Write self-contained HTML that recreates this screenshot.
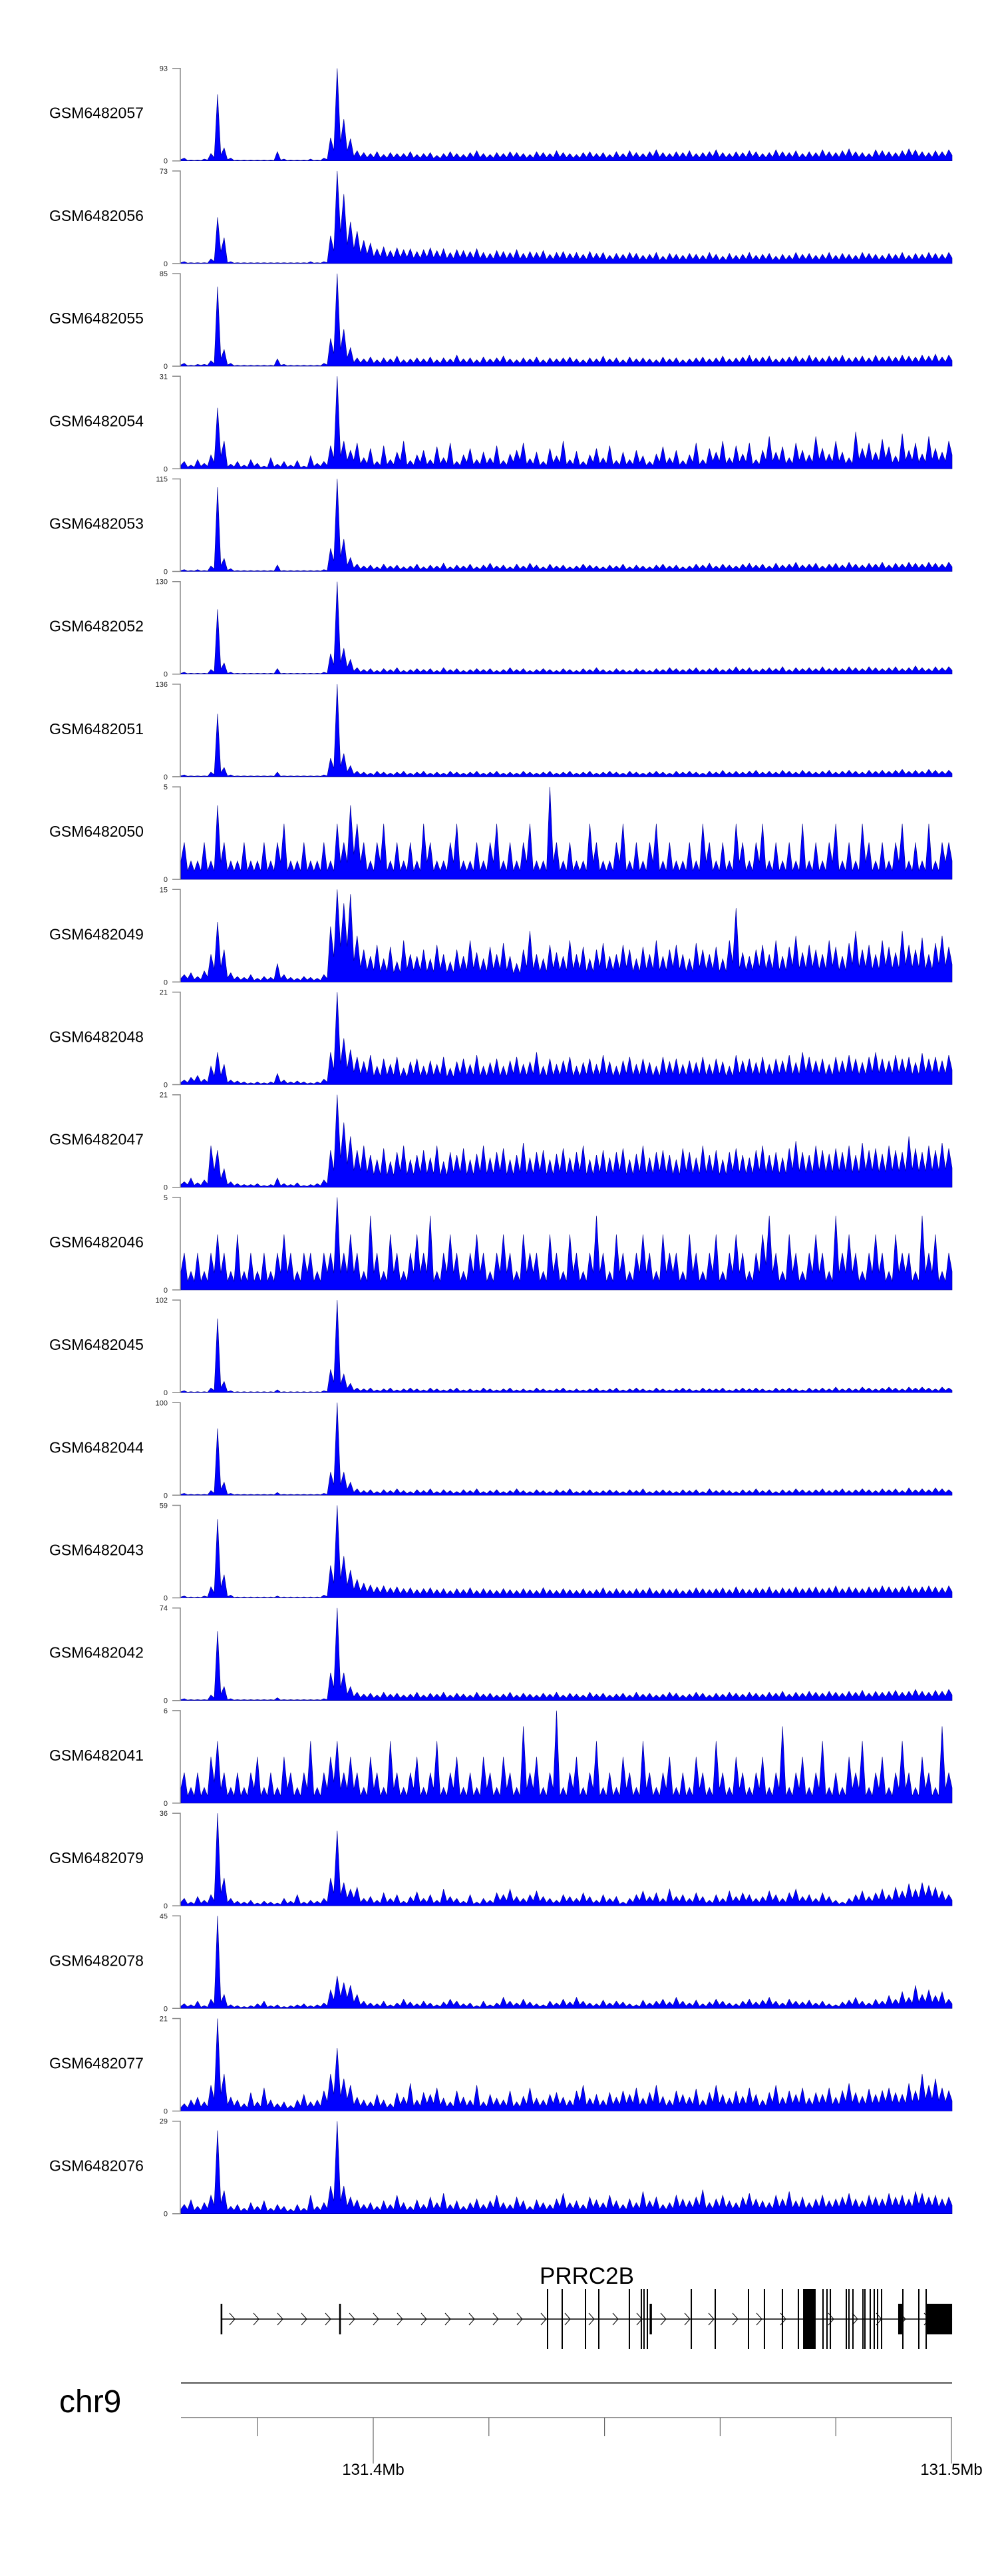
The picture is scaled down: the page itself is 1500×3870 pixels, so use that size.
<!DOCTYPE html>
<html><head><meta charset="utf-8"><style>
html,body{margin:0;padding:0;background:#fff;}
svg{display:block;}
text{font-family:"Liberation Sans",Arial,sans-serif;}
</style></head><body>
<svg id="chart" xmlns="http://www.w3.org/2000/svg" width="1500" height="3870" viewBox="0 0 1500 3870">
<g id="tracks"></g>
<g id="gene"></g>
<g id="axis"></g>
</svg>
<script>
const sampleNames = ["GSM6482057","GSM6482056","GSM6482055","GSM6482054","GSM6482053","GSM6482052","GSM6482051","GSM6482050","GSM6482049","GSM6482048","GSM6482047","GSM6482046","GSM6482045","GSM6482044","GSM6482043","GSM6482042","GSM6482041","GSM6482079","GSM6482078","GSM6482077","GSM6482076"];
const yMaxLabels = [93,73,85,31,115,130,136,5,15,21,21,5,102,100,59,74,6,36,45,21,29];
// coverage values, percent of each track's max
const s057=[3,1,1,2,8,72,14,3,1,1,1,1,1,1,10,2,1,1,1,2,1,3,25,100,45,24,11,9,8,10,7,9,8,8,10,7,8,9,6,8,10,8,7,9,11,8,7,9,8,10,9,8,7,10,9,8,11,9,8,7,9,10,8,9,7,10,8,11,9,8,10,12,9,8,10,9,11,8,9,10,12,9,8,10,9,11,10,8,9,12,10,9,11,8,10,9,12,10,9,11,13,10,9,8,12,11,10,9,11,13,12,10,9,11,10,12];
const s056=[2,1,1,1,5,50,28,2,1,1,1,1,1,1,1,1,1,1,1,2,1,2,30,100,75,45,35,25,22,16,18,14,17,15,16,13,15,17,14,16,12,15,14,13,16,12,11,14,13,12,15,11,13,12,14,10,12,13,11,12,10,13,11,12,9,11,10,12,11,9,10,12,8,11,10,9,11,10,9,12,10,8,11,9,10,12,9,10,11,8,10,9,12,10,11,9,10,12,9,11,10,9,12,11,10,9,11,10,12,9,11,10,12,11,10,12];
const s055=[3,1,2,2,6,86,18,3,1,1,1,1,1,1,8,2,1,1,1,1,1,3,30,100,40,20,9,8,10,7,9,8,11,7,8,9,8,10,7,9,8,12,8,9,7,10,8,9,11,8,7,9,8,10,7,9,8,9,10,8,7,9,8,11,8,9,7,10,8,9,8,7,10,8,9,7,8,9,10,8,9,11,8,9,10,12,9,10,11,8,9,10,11,9,12,10,9,11,10,12,9,10,11,9,12,10,11,10,12,11,10,12,11,13,10,12];
const s054=[8,4,10,6,15,66,30,5,8,4,10,6,3,12,5,8,4,9,3,14,6,8,25,100,30,20,28,12,22,8,25,10,18,30,9,15,20,10,24,12,28,8,15,22,10,18,12,25,9,16,20,28,11,18,8,22,14,30,10,19,8,15,22,12,25,9,18,10,20,14,8,16,24,12,20,9,15,28,10,22,18,30,12,25,16,28,10,20,35,18,24,12,28,20,15,35,22,16,30,18,12,40,22,28,18,32,24,14,38,20,28,16,35,22,18,30];
const s053=[2,1,2,1,6,91,14,3,1,1,1,1,1,1,7,1,1,1,1,1,1,2,25,100,35,15,8,6,7,5,8,6,7,5,6,8,5,7,6,9,5,7,6,8,5,7,9,6,7,5,8,6,9,7,5,8,6,7,5,6,8,7,6,5,7,6,8,5,7,6,5,7,8,6,7,5,6,8,7,9,6,8,7,6,8,9,7,8,6,9,7,8,10,7,8,9,6,8,9,7,10,8,7,9,8,10,7,9,8,10,9,8,10,9,8,10];
const s052=[2,1,1,1,5,70,12,2,1,1,1,1,1,1,6,1,1,1,1,1,1,2,22,100,28,16,7,5,6,4,6,5,7,4,5,6,5,6,4,7,5,6,4,5,6,5,6,4,5,7,5,6,4,5,6,5,4,6,5,4,6,5,7,5,4,6,5,4,6,5,4,6,5,7,6,5,6,7,5,6,7,5,6,8,6,7,5,6,7,6,8,5,7,6,7,6,8,6,7,6,8,7,6,8,7,6,7,8,6,7,9,7,6,8,7,8];
const s051=[2,1,1,1,5,68,10,2,1,1,1,1,1,1,5,1,1,1,1,1,1,2,20,100,25,12,6,5,4,6,5,4,5,6,4,5,6,4,5,4,6,5,4,5,6,4,5,6,4,5,4,6,5,4,5,6,4,5,6,4,5,6,4,5,6,5,4,6,5,4,5,6,5,4,6,5,6,5,4,6,5,7,5,6,5,6,7,5,6,5,7,6,5,7,6,5,6,7,5,6,7,6,5,7,6,7,6,7,8,6,7,6,8,7,6,7];
const s050=[40,20,20,40,20,80,40,20,20,40,20,20,40,20,40,60,20,20,40,20,20,40,20,60,40,80,60,40,20,40,60,20,40,20,40,20,60,40,20,20,40,60,20,20,40,20,40,60,20,40,20,40,60,20,20,100,40,20,40,20,20,60,40,20,20,40,60,20,40,20,40,60,20,40,20,20,40,20,60,40,20,40,20,60,40,20,40,60,20,40,20,40,20,60,20,40,20,40,60,20,40,20,60,40,20,40,20,40,60,20,40,20,60,20,40,40];
const s049=[8,10,6,12,30,65,35,10,6,5,8,4,6,5,20,8,5,4,6,5,4,8,60,100,85,95,50,35,28,40,25,38,22,45,30,28,35,25,40,30,22,35,28,45,32,25,38,30,42,28,20,35,55,30,25,40,32,28,45,30,38,25,35,42,28,30,40,35,25,38,30,45,28,35,40,30,25,42,35,30,38,25,45,80,32,28,35,40,30,45,28,38,50,32,40,35,30,45,38,28,42,55,35,40,30,45,38,32,55,40,35,48,30,42,50,38];
const s048=[5,8,10,6,20,35,22,5,4,3,2,3,2,3,12,5,3,4,3,2,3,6,35,100,50,38,30,25,32,20,28,22,30,18,25,28,20,26,22,30,18,25,28,22,32,20,24,28,20,26,30,22,25,35,20,28,22,26,30,20,24,28,22,32,25,20,26,30,22,28,24,20,30,25,28,22,26,24,30,22,28,25,20,32,26,28,24,30,22,28,26,32,24,35,30,26,28,22,30,26,32,28,24,30,35,28,26,32,28,30,24,34,28,30,26,32];
const s047=[6,10,5,8,45,40,20,6,4,3,3,4,2,3,10,4,3,5,2,3,4,8,40,100,70,55,40,45,35,30,42,28,38,45,30,35,40,32,45,28,38,35,42,30,36,45,32,38,42,30,35,48,32,38,40,30,36,42,32,38,45,30,35,40,32,38,42,30,36,45,32,38,40,35,30,42,38,32,45,35,40,30,38,42,35,32,40,45,35,38,32,42,50,38,35,45,40,36,42,38,45,35,48,40,42,36,45,40,38,55,42,38,45,40,48,42];
const s046=[40,20,40,20,40,60,40,20,60,20,40,20,40,20,40,60,40,20,40,40,20,40,40,100,40,60,40,20,80,40,20,60,40,20,40,60,40,80,20,40,60,40,20,40,60,40,20,40,60,40,20,60,40,40,20,60,40,20,60,40,20,40,80,40,20,60,40,20,40,60,40,20,60,40,40,20,60,40,20,40,60,20,40,60,40,20,40,60,80,40,20,60,40,20,40,60,40,20,80,40,60,40,20,40,60,40,20,60,40,40,20,80,40,60,20,40];
const s045=[2,1,1,1,5,80,12,2,1,1,1,1,1,1,3,1,1,1,1,1,1,2,25,100,20,10,5,4,5,3,4,5,3,4,5,4,3,5,4,3,4,5,3,4,3,5,4,3,4,5,3,4,3,5,4,3,4,5,3,4,3,4,5,3,4,5,3,4,5,4,3,5,4,3,4,5,4,3,5,4,4,5,3,4,5,4,5,4,3,5,4,5,4,3,5,4,5,4,6,4,5,4,6,5,4,5,6,5,4,6,5,6,5,4,6,5];
const s044=[2,1,1,1,5,72,14,2,1,1,1,1,1,1,3,1,1,1,1,1,1,2,25,100,25,14,7,5,6,4,6,5,7,5,4,6,5,7,4,6,5,4,6,5,7,4,5,6,4,5,7,5,4,6,5,4,6,5,7,4,5,6,4,5,6,5,4,6,5,7,4,5,6,5,4,6,5,6,4,7,5,6,5,4,6,5,7,5,6,4,6,5,7,6,5,6,7,5,6,7,5,6,7,6,5,7,6,7,5,8,6,7,6,8,7,6];
const s043=[2,1,1,2,12,85,25,3,1,1,1,1,1,1,2,1,1,1,1,1,1,3,35,100,45,30,20,16,14,12,13,11,12,10,11,9,10,11,9,10,8,10,9,11,8,10,9,8,10,9,8,10,9,8,11,9,8,10,9,8,10,8,9,11,8,10,9,8,10,9,11,8,10,9,10,8,9,11,10,9,10,11,9,12,10,9,11,10,12,9,11,10,12,10,11,12,10,11,13,10,12,11,10,12,11,13,12,11,12,13,11,12,13,12,11,13];
const s042=[2,1,1,1,6,75,15,2,1,1,1,1,1,1,3,1,1,1,1,1,1,2,30,100,30,15,9,7,8,6,9,7,8,6,7,9,6,8,7,9,6,8,7,6,9,7,8,6,7,9,6,8,7,6,8,7,9,6,8,7,6,9,7,8,6,7,8,6,9,7,8,6,7,9,8,6,7,9,8,6,8,7,9,8,7,9,8,7,9,8,10,7,9,8,10,9,8,10,9,8,10,9,11,8,10,9,10,11,9,10,12,10,9,11,10,12];
const s041=[33,17,33,17,50,67,33,17,33,17,33,50,17,33,17,50,33,17,33,67,17,33,50,67,33,50,33,17,50,33,17,67,33,17,33,50,17,33,67,17,33,50,17,33,17,50,33,17,50,33,17,83,33,50,17,33,100,17,33,50,17,33,67,17,33,17,50,33,17,67,33,17,33,50,17,33,17,50,33,17,67,33,17,50,33,17,33,50,17,33,83,17,33,50,17,33,67,17,33,17,50,33,67,17,33,50,17,33,67,33,17,50,33,17,83,33];
const s079=[8,4,10,6,12,100,30,8,5,4,6,3,5,4,3,8,5,12,4,6,5,8,30,81,25,18,20,8,10,6,14,8,12,5,10,15,8,12,6,18,10,8,5,12,4,8,6,14,12,18,10,8,12,16,10,8,6,12,10,8,14,10,6,12,8,10,4,8,12,16,10,14,8,18,10,12,8,14,10,6,12,8,16,10,14,12,8,10,16,12,8,14,18,10,12,8,14,10,6,4,8,12,16,10,14,18,12,20,16,24,18,25,22,20,16,12];
const s078=[5,4,8,3,10,100,15,4,3,2,3,5,8,3,4,2,3,4,5,3,4,6,20,35,28,25,15,8,6,5,8,4,6,10,7,5,8,6,4,7,10,8,5,6,3,8,4,6,12,8,6,10,7,5,4,8,6,10,7,12,8,6,5,9,6,8,7,5,4,9,6,8,10,7,12,8,6,9,5,7,10,8,6,5,8,10,7,9,12,8,6,10,8,7,9,6,8,5,4,7,9,12,8,6,10,8,14,10,18,12,25,15,20,14,18,10];
const s077=[8,12,15,10,28,100,40,15,12,8,20,10,25,12,8,10,6,12,18,10,12,22,40,68,35,28,15,12,10,18,12,8,20,15,30,12,20,18,25,14,10,22,15,12,28,10,18,14,12,22,10,16,25,14,12,18,20,15,12,22,28,14,18,12,20,15,22,18,25,14,20,28,16,12,22,18,15,24,12,20,28,18,14,22,16,25,18,12,20,28,15,22,18,25,14,20,18,25,15,22,30,20,16,24,18,22,25,20,18,30,22,40,28,35,25,22];
const s076=[10,15,8,12,20,90,25,8,10,6,12,8,14,6,10,8,5,10,6,20,8,12,30,100,30,18,15,10,12,8,14,10,20,12,8,15,10,18,12,22,10,14,8,12,16,10,14,20,12,10,18,14,8,15,12,10,16,22,12,14,10,18,15,12,20,14,10,16,12,24,14,18,10,12,20,16,14,18,26,12,16,20,14,12,18,22,16,14,12,20,16,24,14,18,12,16,20,14,16,18,22,16,14,20,18,16,22,18,20,16,24,22,18,20,16,18];
const trackSeries=[s057,s056,s055,s054,s053,s052,s051,s050,s049,s048,s047,s046,s045,s044,s043,s042,s041,s079,s078,s077,s076];

// gene model (kb offset from 131.3 Mb)
const geneStart=73.76, geneEnd=200.12;
const utrExons=[[73.6,73.9],[94.1,94.4],[147.8,148.2],[190.79,191.48],[195.63,200.12]];
const cdsExons=[130.15,132.68,136.71,139.01,144.30,146.37,146.83,147.41,155.01,159.15,164.90,167.66,170.77,173.53,177.79,178.48,179.06,181.82,182.28,182.97,184.70,185.04,185.96,186.65,187.23,187.92,191.60,194.36,195.63];
const wideCds=[[174.34,176.52]];
const axisTicksKb=[80,100,120,140,160,180,200];
const axisMajorLabels=["131.4Mb","131.5Mb"];
const axisMajorKb=[100,200];

const NS="http://www.w3.org/2000/svg";
function mk(tag,attrs,parent){const e=document.createElementNS(NS,tag);for(const k in attrs)e.setAttribute(k,attrs[k]);parent.appendChild(e);return e;}
const X0=272,X1=1431;
const xKb=kb=>561+(kb-100)*8.69;
const tracksG=document.getElementById('tracks');
for(let t=0;t<trackSeries.length;t++){
  const top=102.7+t*154.2, base=top+139;
  const g=mk('g',{},tracksG);
  
  
  const lab=mk('text',{x:74,y:top+75,'font-size':23,fill:'#000'},g);
  lab.textContent=sampleNames[t];
  
  
  const ax=mk('path',{d:`M259 ${top}H271V${base}H259`,stroke:'#8a8a8a','stroke-width':1.5,fill:'none'},g);
  
  
  const tm=mk('text',{x:252,y:top+4,'font-size':11,'text-anchor':'end',fill:'#222'},g);
  tm.textContent=yMaxLabels[t];
  
  
  const t0=mk('text',{x:252,y:base+4,'font-size':11,'text-anchor':'end',fill:'#222'},g);
  t0.textContent='0';
  
  
  const vals=trackSeries[t], n=vals.length, bw=(X1-X0)/n, h=139;
  const yv=v=>base-Math.min(v,100)/100*h;
  let d=`M${X0} ${base}L${X0} ${yv(vals[0]*0.5)}`;
  for(let i=0;i<n;i++){
    d+=`L${(X0+(i+0.5)*bw).toFixed(1)} ${yv(vals[i]).toFixed(1)}`;
    if(i<n-1){const m=Math.min(vals[i],vals[i+1])*0.45;d+=`L${(X0+(i+1)*bw).toFixed(1)} ${yv(m).toFixed(1)}`;}
  }
  d+=`L${X1} ${yv(vals[n-1]*0.5)}L${X1} ${base}Z`;
  const area=mk('path',{d:d,fill:'#0000ff',stroke:'#00008b','stroke-width':0.6},g);
  
  
}
// gene
const geneG=document.getElementById('gene');
const lineY=3484;
const gl=mk('line',{x1:xKb(geneStart),x2:xKb(geneEnd),y1:lineY,y2:lineY,stroke:'#000','stroke-width':1.5},geneG);


for(let x=xKb(geneStart)+16;x<xKb(geneEnd)-30;x+=36){
  const c=mk('polyline',{points:`${x-4},${lineY-9} ${x+4},${lineY} ${x-4},${lineY+9}`,stroke:'#000','stroke-width':1,fill:'none'},geneG);
  
  
}
for(const [a,b] of utrExons){
  const r=mk('rect',{x:xKb(a),y:3461,width:Math.max(2,xKb(b)-xKb(a)),height:46,fill:'#000'},geneG);
  
  
}
for(const k of cdsExons){
  const r=mk('rect',{x:xKb(k)-1,y:3439,width:2,height:90,fill:'#000'},geneG);
  
  
}
for(const [a,b] of wideCds){
  const r=mk('rect',{x:xKb(a),y:3439,width:xKb(b)-xKb(a),height:90,fill:'#000'},geneG);
  
  
}
const gname=mk('text',{x:882,y:3431,'font-size':35,'text-anchor':'middle',fill:'#000'},geneG);
gname.textContent='PRRC2B';


// axis
const axG=document.getElementById('axis');
const l1=mk('line',{x1:X0,x2:X1,y1:3580,y2:3580,stroke:'#555','stroke-width':2},axG);


const l2=mk('line',{x1:X0,x2:X1,y1:3632,y2:3632,stroke:'#999','stroke-width':2},axG);


for(const k of axisTicksKb){
  const major=axisMajorKb.includes(k);
  const tk=mk('line',{x1:xKb(k),x2:xKb(k),y1:3632,y2:major?3701:3660,stroke:'#666','stroke-width':1.2},axG);
  
  
}
axisMajorKb.forEach((k,i)=>{
  const tl=mk('text',{x:xKb(k),y:3718,'font-size':24,'text-anchor':'middle',fill:'#000'},axG);
  tl.textContent=axisMajorLabels[i];
  
  
});
const chr=mk('text',{x:89,y:3624,'font-size':48,fill:'#000'},axG);
chr.textContent='chr9';


</script>
</body></html>
